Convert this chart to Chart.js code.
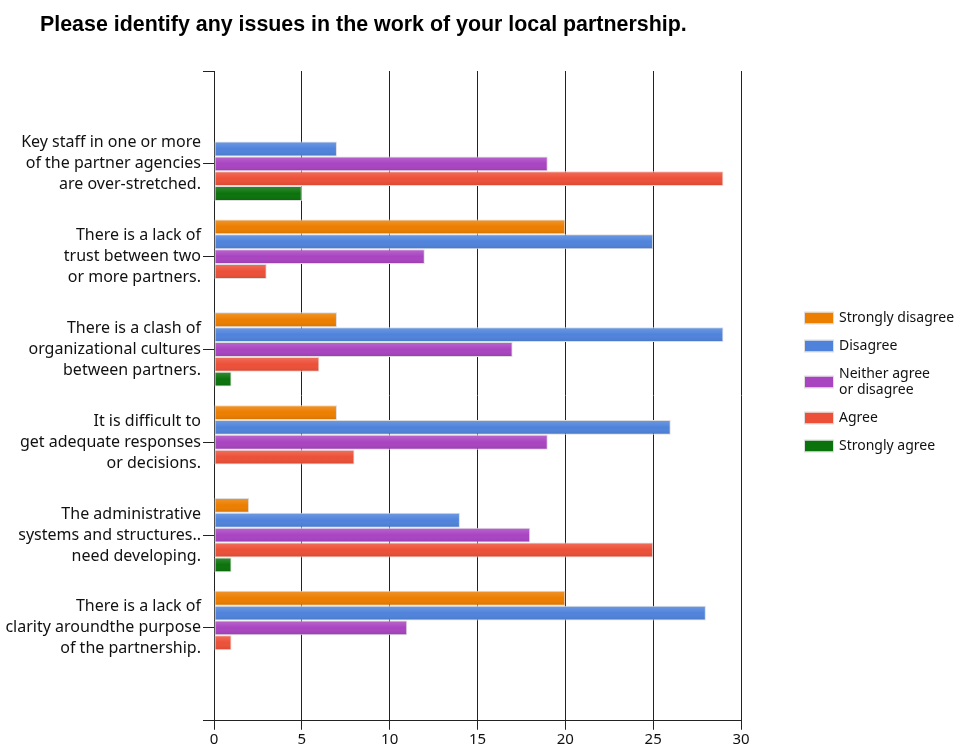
<!DOCTYPE html>
<html>
<head>
<meta charset="utf-8">
<title>Local partnership issues</title>
<script src="https://cdn.jsdelivr.net/npm/chart.js@4.4.0/dist/chart.umd.min.js"></script>
<style>
  html, body { margin: 0; padding: 0; background: #fff; }
  #wrap { position: relative; width: 956px; height: 749px; }
  #chart-title {
    position: absolute;
    left: 40px;
    top: 12px;
    margin: 0;
    font: bold 21.4px/24px "Liberation Sans", Arial, sans-serif;
    color: #000;
    white-space: nowrap;
  }
</style>
</head>
<body>
<div id="wrap">
  <h1 id="chart-title">Please identify any issues in the work of your local partnership.</h1>
  <canvas id="issues-chart" width="956" height="749"></canvas>
</div>
<script>
// === Survey data ===
const issues = [
  ["Key staff in one or more", "of the partner agencies", "are over-stretched."],
  ["There is a lack of", "trust between two", "or more partners."],
  ["There is a clash of", "organizational cultures", "between partners."],
  ["It is difficult to", "get adequate responses", "or decisions."],
  ["The administrative", "systems and structures..", "need developing."],
  ["There is a lack of", "clarity aroundthe purpose", "of the partnership."],
];
const responseLabels = [
  "Strongly disagree",
  "Disagree",
  ["Neither agree", "or disagree"],
  "Agree",
  "Strongly agree",
];
const stronglyDisagree = [0, 20, 7, 7, 2, 20];
const disagree = [7, 25, 29, 26, 14, 28];
const neither = [19, 12, 17, 19, 18, 11];
const agree = [29, 3, 6, 8, 25, 1];
const stronglyAgree = [5, 0, 1, 0, 1, 0];
const xTicks = [0, 5, 10, 15, 20, 25, 30];

const seriesColors = ["#ec7e00", "#4f83db", "#a944c1", "#ec5038", "#0b730b"];
const seriesValues = [stronglyDisagree, disagree, neither, agree, stronglyAgree];

const labelFont = "'Noto Sans', 'DejaVu Sans', sans-serif";

// empty slot above and below the groups so the axis runs past them
const yLabels = ["", ...issues, ""];
const pad = (arr) => [null, ...arr, null];

const datasets = seriesValues.map((values, i) => ({
  label: [].concat(responseLabels[i]).join(" "),
  data: pad(values),
  backgroundColor: seriesColors[i],
  borderColor: "#dedede",
  borderWidth: 1,
  borderSkipped: false,
  categoryPercentage: 0.8,
  barPercentage: 1.0,
}));

// light-to-dark shading on every bar
const barShading = {
  id: "barShading",
  afterDatasetsDraw(chart) {
    const ctx = chart.ctx;
    chart.data.datasets.forEach((ds, i) => {
      const meta = chart.getDatasetMeta(i);
      meta.data.forEach((bar) => {
        if (bar.x == null || Math.abs(bar.x - bar.base) < 2) return;
        const top = bar.y - bar.height / 2 + 1;
        const h = bar.height - 2;
        const g = ctx.createLinearGradient(0, top, 0, top + h);
        g.addColorStop(0, "rgba(255,255,255,0.16)");
        g.addColorStop(0.5, "rgba(255,255,255,0)");
        g.addColorStop(1, "rgba(0,0,0,0.08)");
        ctx.save();
        ctx.fillStyle = g;
        ctx.fillRect(bar.base + 1, top, bar.x - bar.base - 2, h);
        ctx.restore();
      });
    });
  },
};

// legend drawn to the right of the plot, one colour box per response
const sideLegend = {
  id: "sideLegend",
  afterDraw(chart) {
    const ctx = chart.ctx;
    const left = chart.chartArea.right + 64;
    const lineH = 16;
    const gap = 12;
    let y = chart.chartArea.top + 239;
    ctx.save();
    ctx.font = "14px " + labelFont;
    ctx.textBaseline = "middle";
    ctx.textAlign = "left";
    chart.data.datasets.forEach((ds, i) => {
      const lines = [].concat(responseLabels[i]);
      const h = lines.length * lineH;
      const mid = y + h / 2;
      ctx.fillStyle = ds.backgroundColor;
      ctx.fillRect(left, mid - 5.5, 28, 11);
      ctx.strokeStyle = "#dedede";
      ctx.lineWidth = 1;
      ctx.strokeRect(left - 0.5, mid - 6, 29, 12);
      ctx.fillStyle = "#111";
      lines.forEach((t, k) => ctx.fillText(t, left + 34, y + lineH / 2 + k * lineH));
      y += h + gap;
    });
    ctx.restore();
  },
};

Chart.defaults.font.family = labelFont;
Chart.defaults.color = "#111";

new Chart(document.getElementById("issues-chart"), {
  type: "bar",
  data: { labels: yLabels, datasets },
  options: {
    indexAxis: "y",
    responsive: false,
    animation: false,
    layout: { padding: { left: 0, right: 215, top: 71, bottom: 0 } },
    scales: {
      x: {
        min: 0,
        max: 30,
        afterBuildTicks: (axis) => {
          axis.ticks = xTicks.map((v) => ({ value: v }));
        },
        grid: { color: "#222", tickLength: 9 },
        border: { color: "#222" },
        ticks: { font: { size: 15, lineHeight: 1.15 }, padding: 1, color: "#111" },
      },
      y: {
        type: "category",
        offset: false,
        afterFit: (scale) => {
          scale.width = 214;
        },
        grid: { offset: false, drawOnChartArea: false, tickLength: 11, color: "#222" },
        border: { color: "#222" },
        ticks: {
          autoSkip: false,
          padding: 2,
          color: "#111",
          font: { size: 16, lineHeight: 1.3125 },
        },
      },
    },
    plugins: {
      legend: { display: false },
      tooltip: { enabled: false },
    },
  },
  plugins: [barShading, sideLegend],
});
</script>
</body>
</html>
